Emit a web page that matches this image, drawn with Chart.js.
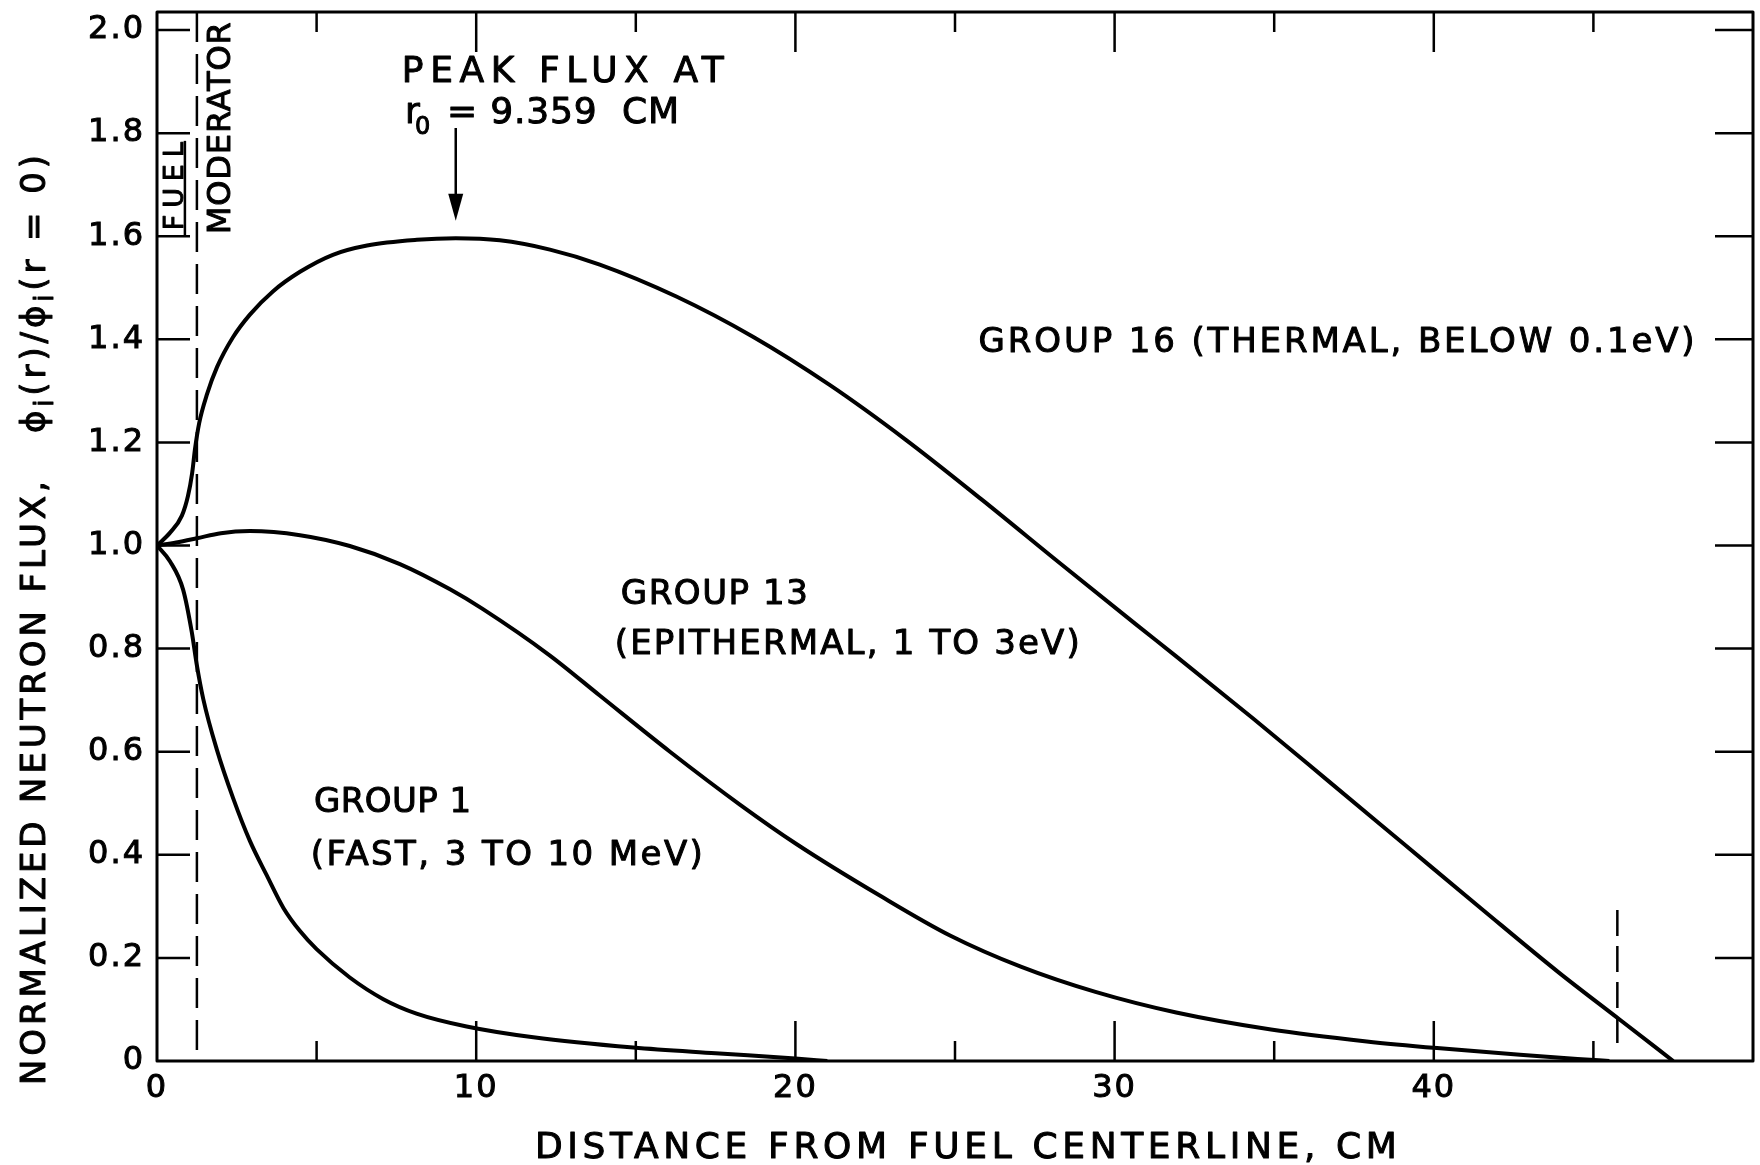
<!DOCTYPE html>
<html>
<head>
<meta charset="utf-8">
<title>Normalized neutron flux vs. distance from fuel centerline</title>
<script src="https://cdn.jsdelivr.net/npm/chart.js@4.4.1/dist/chart.umd.min.js"></script>
<style>
  html, body { margin: 0; padding: 0; background: #fff; }
  canvas { display: block; }
</style>
</head>
<body>
<canvas id="flux" width="1760" height="1165"></canvas>
<script>
// radial distance r (cm) and phi_i(r) / phi_i(r = 0) for the three energy groups
const fastR = [0, 0.41, 0.82, 1.09, 1.24, 1.45, 1.87, 2.39, 2.91, 3.44, 3.96, 4.48, 5.0, 6.04, 7.09, 8.13, 9.7, 11.79, 14.92, 17.5, 20.0, 21.0]
const fastPhi = [1.0, 0.969, 0.914, 0.832, 0.771, 0.702, 0.605, 0.509, 0.427, 0.36, 0.297, 0.252, 0.217, 0.162, 0.12, 0.092, 0.067, 0.046, 0.026, 0.015, 0.005, 0]

const epiR = [0, 0.6, 1.24, 2.0, 2.91, 4.48, 6.04, 7.61, 9.18, 10.2, 12.3, 13.87, 16.07, 18.27, 20.03, 22.67, 24.86, 27.06, 29.4, 31.93, 34.9, 37.9, 40.1, 42.7, 44.5, 45.5]
const epiPhi = [1.0, 1.006, 1.014, 1.024, 1.028, 1.02, 0.999, 0.964, 0.915, 0.877, 0.787, 0.709, 0.6, 0.497, 0.421, 0.32, 0.243, 0.183, 0.134, 0.094, 0.061, 0.038, 0.025, 0.012, 0.004, 0]

const thermalR = [0, 0.41, 0.78, 0.97, 1.10, 1.19, 1.32, 1.57, 1.88, 2.38, 2.91, 3.63, 4.48, 5.51, 6.58, 8.14, 9.359, 10.74, 12.31, 13.87, 16.27, 18.67, 21.06, 23.46, 25.86, 28.26, 30.65, 31.93, 34.33, 36.72, 39.12, 41.52, 43.91, 45.83, 47.5]
const thermalPhi = [1.0, 1.025, 1.058, 1.096, 1.14, 1.187, 1.237, 1.294, 1.346, 1.404, 1.448, 1.493, 1.531, 1.564, 1.582, 1.593, 1.596, 1.592, 1.574, 1.545, 1.483, 1.405, 1.312, 1.205, 1.088, 0.967, 0.848, 0.785, 0.665, 0.542, 0.418, 0.294, 0.172, 0.08, 0]

// axis ticks
const xLabelValues = [0, 10, 20, 30, 40]
const xTickMarks = [5, 10, 15, 20, 25, 30, 35, 40, 45]
const yTickValues = [0, 0.2, 0.4, 0.6, 0.8, 1.0, 1.2, 1.4, 1.6, 1.8, 2.0]

// cell geometry (cm)
const fuelRadius = 1.25
const cellEdge = 45.75
const peakR = 9.359

const ink = '#000'
const family = '"DejaVu Sans", sans-serif'

const toPoints = (rs, phis) => rs.map((r, i) => ({ x: r, y: phis[i] }))

const curveNotes = [
  { text: 'GROUP 16 (THERMAL, BELOW 0.1eV)', r: 25.74, phi: 1.375, width: 716 },
  { text: 'GROUP 13', r: 14.53, phi: 0.887, width: 187 },
  { text: '(EPITHERMAL, 1 TO 3eV)', r: 14.34, phi: 0.79, width: 465 },
  { text: 'GROUP 1', r: 4.92, phi: 0.483, width: 157 },
  { text: '(FAST, 3 TO 10 MeV)', r: 4.82, phi: 0.38, width: 392 }
]

// lettering is a bit heavier than the plain face, so outline it too
function ink2 (ctx, text, x0, y0) {
  ctx.fillText(text, x0, y0)
  ctx.strokeText(text, x0, y0)
}

// text with the letter spacing stretched so the string spans `width`
function spaced (ctx, text, x0, y0, width) {
  ctx.letterSpacing = '0px'
  const n = Array.from(text).length
  const gap = n > 1 ? (width - ctx.measureText(text).width) / (n - 1) : 0
  ctx.letterSpacing = gap + 'px'
  ink2(ctx, text, x0, y0)
}

// run of normal / subscript pieces, spaced to span `width`
function richText (ctx, parts, size, width) {
  let base = 0
  let chars = 0
  ctx.letterSpacing = '0px'
  parts.forEach(p => {
    ctx.font = `${p.sub ? Math.round(size * 0.75) : size}px ${family}`
    base += ctx.measureText(p.text).width
    chars += Array.from(p.text).length
  })
  const gap = (width - base) / (chars - 1)
  ctx.letterSpacing = gap + 'px'
  let pos = 0
  parts.forEach(p => {
    ctx.font = `${p.sub ? Math.round(size * 0.75) : size}px ${family}`
    ink2(ctx, p.text, pos, p.sub ? 8 : 0)
    pos += ctx.measureText(p.text).width
  })
}

const drawings = {
  id: 'drawings',
  beforeDraw (chart) {
    chart.ctx.letterSpacing = '2px'
  },
  afterDraw (chart) {
    const { ctx, chartArea: area, scales: { x, y } } = chart
    ctx.save()
    ctx.letterSpacing = '0px'
    ctx.strokeStyle = ink
    ctx.fillStyle = ink
    ctx.lineCap = 'butt'
    ctx.lineJoin = 'round'

    // frame
    ctx.lineWidth = 3
    ctx.strokeRect(area.left, area.top, area.right - area.left, area.bottom - area.top)

    // inward ticks on all four sides
    ctx.lineWidth = 2.5
    ctx.beginPath()
    xTickMarks.forEach(v => {
      const px = x.getPixelForValue(v)
      const len = v % 10 === 0 ? 40 : 20
      ctx.moveTo(px, area.bottom)
      ctx.lineTo(px, area.bottom - len)
      ctx.moveTo(px, area.top)
      ctx.lineTo(px, area.top + len)
    })
    yTickValues.forEach(v => {
      if (v === 0) return
      const py = y.getPixelForValue(v)
      ctx.moveTo(area.left, py)
      ctx.lineTo(area.left + 33, py)
      ctx.moveTo(area.right, py)
      ctx.lineTo(area.right - 38, py)
    })
    ctx.stroke()

    // fuel / moderator boundary and outer cell boundary
    ctx.lineWidth = 2.5
    ctx.setLineDash([30, 12])
    ctx.beginPath()
    const fx = x.getPixelForValue(fuelRadius)
    ctx.moveTo(fx, area.top)
    ctx.lineTo(fx, area.bottom)
    ctx.stroke()
    ctx.setLineDash([26, 10])
    ctx.beginPath()
    const cx = x.getPixelForValue(cellEdge)
    ctx.moveTo(cx, y.getPixelForValue(0.293))
    ctx.lineTo(cx, y.getPixelForValue(0.035))
    ctx.stroke()
    ctx.setLineDash([])

    // text from here on
    ctx.lineWidth = 1
    ctx.textBaseline = 'alphabetic'
    ctx.textAlign = 'left'

    // region labels, written up the page
    ctx.save()
    ctx.translate(fx - 14, y.getPixelForValue(1.6) - 6)
    ctx.rotate(-Math.PI / 2)
    ctx.font = `27px ${family}`
    spaced(ctx, 'FUEL', 0, 0, 88)
    ctx.restore()
    ctx.lineWidth = 2.5
    ctx.beginPath()
    ctx.moveTo(fx - 12, y.getPixelForValue(1.6))
    ctx.lineTo(fx - 12, y.getPixelForValue(1.785))
    ctx.stroke()
    ctx.lineWidth = 1
    ctx.save()
    ctx.translate(fx + 33, y.getPixelForValue(1.6) - 2)
    ctx.rotate(-Math.PI / 2)
    ctx.font = `32px ${family}`
    spaced(ctx, 'MODERATOR', 0, 0, 212)
    ctx.restore()

    // peak annotation and arrow
    const ax = x.getPixelForValue(peakR)
    ctx.font = `36px ${family}`
    spaced(ctx, 'PEAK FLUX AT', x.getPixelForValue(7.67), y.getPixelForValue(1.899), 322)
    const rowY = y.getPixelForValue(1.82)
    const rowX = x.getPixelForValue(7.77)
    ctx.letterSpacing = '0px'
    ink2(ctx, 'r', rowX, rowY)
    ctx.font = `24px ${family}`
    ink2(ctx, '0', rowX + 10, rowY + 11)
    ctx.font = `36px ${family}`
    spaced(ctx, '= 9.359  CM', rowX + 42, rowY, 232)

    const tipY = y.getPixelForValue(1.63)
    ctx.lineWidth = 2.5
    ctx.beginPath()
    ctx.moveTo(ax, y.getPixelForValue(1.81))
    ctx.lineTo(ax, tipY - 20)
    ctx.stroke()
    ctx.beginPath()
    ctx.moveTo(ax, tipY)
    ctx.lineTo(ax - 7.5, tipY - 27)
    ctx.lineTo(ax + 7.5, tipY - 27)
    ctx.closePath()
    ctx.fill()
    ctx.lineWidth = 1

    // curve labels
    ctx.font = `34px ${family}`
    curveNotes.forEach(n => {
      spaced(ctx, n.text, x.getPixelForValue(n.r), y.getPixelForValue(n.phi), n.width)
    })

    // axis titles
    ctx.font = `36px ${family}`
    spaced(ctx, 'DISTANCE FROM FUEL CENTERLINE, CM', x.getPixelForValue(11.84), chart.height - 7, 862)

    ctx.save()
    ctx.translate(45, 1085)
    ctx.rotate(-Math.PI / 2)
    richText(ctx, [
      { text: 'NORMALIZED NEUTRON FLUX,   \u03D5' },
      { text: 'i', sub: true },
      { text: '(r)/\u03D5' },
      { text: 'i', sub: true },
      { text: '(r = 0)' }
    ], 34, 930)
    ctx.restore()

    ctx.restore()
    ctx.letterSpacing = '0px'
  }
}

const lineStyle = {
  borderColor: ink,
  borderWidth: 4,
  pointRadius: 0,
  fill: false,
  cubicInterpolationMode: 'monotone'
}

const tickFont = { family: 'DejaVu Sans', size: 32 }

new Chart(document.getElementById('flux'), {
  type: 'line',
  data: {
    datasets: [
      { label: 'Group 1', data: toPoints(fastR, fastPhi), ...lineStyle },
      { label: 'Group 13', data: toPoints(epiR, epiPhi), ...lineStyle },
      { label: 'Group 16', data: toPoints(thermalR, thermalPhi), ...lineStyle }
    ]
  },
  options: {
    responsive: false,
    devicePixelRatio: 1,
    animation: false,
    events: [],
    layout: {
      padding: { top: 12, right: 7, left: 0, bottom: 0 }
    },
    plugins: {
      legend: { display: false },
      tooltip: { enabled: false }
    },
    scales: {
      x: {
        type: 'linear',
        min: 0,
        max: 50,
        grid: { display: false, drawTicks: false },
        border: { display: false },
        afterBuildTicks: scale => { scale.ticks = xLabelValues.map(value => ({ value })) },
        afterFit: scale => {
          scale.height = 104
          scale.paddingLeft = 0
          scale.paddingRight = 0
        },
        ticks: {
          color: ink,
          padding: 8,
          maxRotation: 0,
          textStrokeColor: ink,
          textStrokeWidth: 1,
          font: tickFont,
          callback: v => String(v)
        }
      },
      y: {
        type: 'linear',
        min: 0,
        max: 2.035,
        grid: { display: false, drawTicks: false },
        border: { display: false },
        afterBuildTicks: scale => { scale.ticks = yTickValues.map(value => ({ value })) },
        afterFit: scale => {
          scale.width = 157
          scale.paddingTop = 0
          scale.paddingBottom = 0
        },
        ticks: {
          color: ink,
          padding: 12,
          textStrokeColor: ink,
          textStrokeWidth: 1,
          font: tickFont,
          callback: v => (v === 0 ? '0' : v.toFixed(1))
        }
      }
    }
  },
  plugins: [drawings]
})
</script>
</body>
</html>
